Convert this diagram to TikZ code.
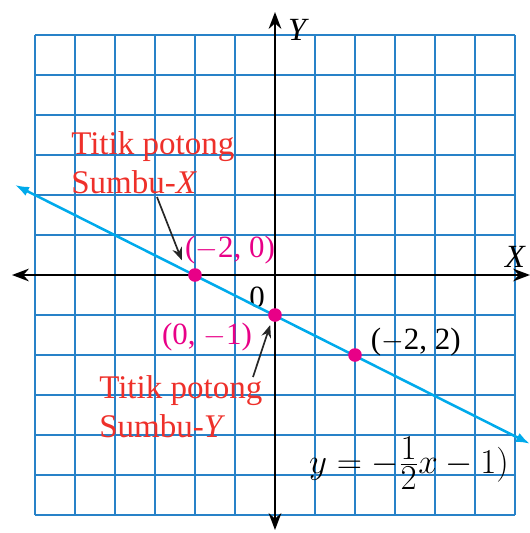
\documentclass[tikz,border=0pt]{standalone}
\usepackage{fontspec}
\setmainfont{Liberation Serif}
\usepackage{amsmath}
\usetikzlibrary{arrows.meta, positioning}
\definecolor{gridblue}{RGB}{40,130,200}
\definecolor{linecyan}{RGB}{0,170,235}
\definecolor{ptmagenta}{RGB}{232,0,135}
\definecolor{lblred}{RGB}{238,48,42}
\begin{document}
\begin{tikzpicture}[
          axis/.style={
              line width=1.6pt,
              -{Stealth[length=12pt,width=9pt]}
            },
          graphline/.style={
              linecyan,
              line width=1.8pt,
              {Latex[length=10pt,width=7pt]}-{Latex[length=10pt,width=7pt]}
            },
          pt/.style={
              circle,
              fill=ptmagenta,
              inner sep=0pt,
              minimum size=0.34cm
            },
          redlabel/.style={
              text=lblred,
              font=\fontsize{23.5}{27.5}\selectfont,
              align=left,
              inner sep=0pt
            },
          ptlabel/.style={
              text=ptmagenta,
              font=\fontsize{22}{24}\selectfont,
              inner sep=0pt
            },
          blacklabel/.style={
              font=\fontsize{22}{24}\selectfont,
              inner sep=0pt
            },
          arr/.style={-{Stealth[length=9pt,width=7pt]}, black!85, line width=1.2pt}
        ]
        \useasboundingbox (-6.875,-6.45) rectangle (6.375,6.875);

        % grid
        \draw[gridblue, line width=1.3pt] (-6,-6) grid (6,6);

        % axes
        \coordinate (xl) at (-6.575,0);
        \coordinate (xr) at (6.375,0);
        \coordinate (yb) at (0,-6.375);
        \coordinate (yt) at (0,6.575);
        \draw[axis] (0,0) -- (xl);
        \draw[axis] (0,0) -- (xr);
        \draw[axis] (0,0) -- (yb);
        \draw[axis] (0,0) -- (yt);
        \node[blacklabel, font=\fontsize{23}{25}\selectfont\itshape] (xlab) at (6.0,0.45) {X};
        \node[blacklabel, font=\fontsize{23}{25}\selectfont\itshape] (ylab) at (0.55,6.12) {Y};
        \node[blacklabel] (orig) at (-0.45,-0.55) {0};

        % line y = -x/2 - 1
        \coordinate (lstart) at (-6.5,2.25);
        \coordinate (lend) at (6.375,-4.22);
        \draw[graphline] (lstart) -- (lend);

        \node[pt] (px) at (-2,0) {};
        \node[pt] (py) at (0,-1) {};
        \node[pt] (pq) at (2,-2) {};

        \node[ptlabel] (pxlab) at (-1.125,0.62) {($-$2, 0)};
        \node[ptlabel] (pylab) at (-1.7,-1.55) {(0, $-$1)};
        \node[blacklabel] (pqlab) at (3.52,-1.68) {($-$2, 2)};
        \node[blacklabel, font=\fontsize{23}{25}\selectfont] (eq) at (3.35,-4.7)
        {$y = -\frac{\textstyle 1}{\textstyle 2}x - 1)$};

        % labels for intercepts
        \node[redlabel, anchor=west] (tpx) at (-5.1,2.8) {Titik potong\\Sumbu-\textit{X}};
        \node[redlabel, anchor=west] (tpy) at (-4.4,-3.3) {Titik potong\\Sumbu-\textit{Y}};

        \coordinate (ax1) at (-2.95,1.95);
        \coordinate (ax2) at (-0.55,-2.55);
        \draw[arr] (ax1) -- ([shift={(-0.33,0.37)}]px.center);
        \draw[arr] (ax2) -- ([shift={(-0.12,-0.25)}]py.center);
      \end{tikzpicture}
\end{document}
